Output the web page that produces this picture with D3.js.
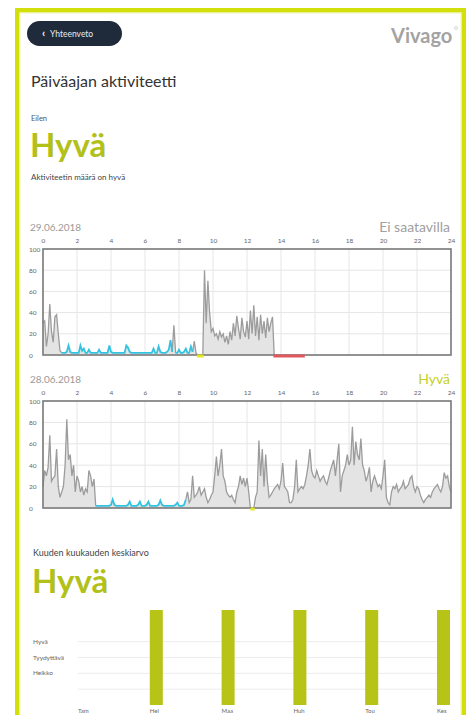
<!DOCTYPE html>
<html>
<head>
<meta charset="utf-8">
<script src="https://cdn.jsdelivr.net/npm/d3@7"></script>
<style>
  body { margin: 0; background: #fff; }
  svg { display: block; font-family: Lato, "Open Sans", sans-serif; }
</style>
</head>
<body>
<svg id="page" width="467" height="715"></svg>
<script>
// activity values, one value every 0.1 hour starting at 00:00
var day1Values = [
  30,32,8,20,48,22,12,36,38,20,
  4,2,2,2,3,9,3,2,2,2,
  2,2,9,4,6,2,2,5,2,2,
  2,2,2,5,2,2,2,2,2,9,
  3,2,2,2,2,2,2,2,2,9,
  7,3,2,2,2,2,2,2,2,2,
  2,2,2,2,2,6,2,2,8,3,
  2,2,2,3,5,14,3,28,2,2,
  5,2,2,3,6,2,2,8,3,13,
  2,0,0,0,0,80,30,70,40,22,
  25,18,20,15,22,17,20,12,18,10,
  22,14,30,18,37,25,15,35,22,17,
  32,15,42,20,47,18,36,14,38,20,
  32,16,35,22,30,36,0
];
var day2Values = [
  20,35,30,38,68,25,28,30,55,20,
  10,15,20,40,83,45,50,30,40,15,
  30,25,15,20,12,18,15,35,30,20,
  27,2,2,2,2,2,2,2,2,2,
  3,8,3,2,2,2,2,2,2,2,
  3,6,2,2,2,2,3,6,2,2,
  2,3,6,2,2,2,2,2,3,7,
  3,2,2,2,2,2,2,2,3,5,
  2,2,2,3,8,15,5,8,30,10,
  12,15,20,12,15,18,10,5,8,12,
  15,30,48,30,40,55,30,25,15,12,
  10,12,8,5,15,20,30,22,28,20,
  28,15,0,0,0,10,15,63,30,55,
  20,50,25,10,12,15,18,20,22,18,
  25,42,20,18,15,5,5,8,20,45,
  15,18,20,18,22,30,40,55,35,30,
  28,35,30,25,28,30,25,22,28,35,
  40,45,30,45,60,15,30,35,40,50,
  40,45,76,40,62,50,45,65,40,35,
  25,30,38,15,25,30,25,20,22,18,
  30,45,10,5,3,15,20,18,22,15,
  18,20,25,18,20,22,28,30,20,15,
  20,18,12,8,5,8,10,12,10,15,
  18,20,22,18,15,20,33,28,30,20,
  15
];
var day1Sleep = [[1.1, 7.6], [7.8, 8.8]];
var day1Away = [[9.05, 9.45]];
var day1Missing = [[13.55, 15.4]];
var day2Sleep = [[3.1, 8.4]];
var day2Away = [[12.2, 12.45]];
var day2Missing = [];

var hourTicks = [0, 2, 4, 6, 8, 10, 12, 14, 16, 18, 20, 22, 24];
var activityTicks = [0, 20, 40, 60, 80, 100];

var months = ["Tam", "Hel", "Maa", "Huh", "Tou", "Kes"];
var monthLevels = [0, 6, 6, 6, 6, 6];
var levelTicks = [1, 2, 3, 4];
var levelNames = {2: "Heikko", 3: "Tyydyttävä", 4: "Hyvä"};

var green = "#b2c11a";
var frameGreen = "#d3df0a";

var svg = d3.select("#page");

// outer frame
svg.append("rect")
  .attr("x", 17.25).attr("y", 10.25)
  .attr("width", 446.5).attr("height", 720)
  .attr("fill", "none")
  .attr("stroke", frameGreen)
  .attr("stroke-width", 4.5);
svg.append("rect")
  .attr("x", 20).attr("y", 13)
  .attr("width", 441).attr("height", 720)
  .attr("fill", "none")
  .attr("stroke", "#eef3b0")
  .attr("stroke-width", 1);

// back button
svg.append("rect")
  .attr("x", 27).attr("y", 21)
  .attr("width", 95).attr("height", 25)
  .attr("rx", 12.5)
  .attr("fill", "#1f2b3b");
svg.append("text")
  .attr("x", 42).attr("y", 37)
  .attr("fill", "#fff")
  .style("font-size", "11px").style("font-weight", "bold")
  .text("‹");
svg.append("text")
  .attr("x", 50).attr("y", 37)
  .attr("fill", "#e8eaee")
  .style("font-size", "8.5px")
  .text("Yhteenveto");

// logo
svg.append("text")
  .attr("x", 391).attr("y", 43)
  .attr("fill", "#a3a3a3")
  .style("font-size", "20px").style("font-weight", "bold")
  .text("Vivago");
svg.append("circle")
  .attr("cx", 456).attr("cy", 28).attr("r", 1.5)
  .attr("fill", "none").attr("stroke", "#bbb").attr("stroke-width", 0.6);

// headings
svg.append("text").attr("x", 31).attr("y", 87)
  .attr("fill", "#333").style("font-size", "16px")
  .text("Päiväajan aktiviteetti");
svg.append("text").attr("x", 31).attr("y", 121)
  .attr("fill", "#555").style("font-size", "7.5px")
  .text("Eilen");
svg.append("text").attr("x", 30).attr("y", 157)
  .attr("fill", green).style("font-size", "33px").style("font-weight", "bold")
  .text("Hyvä");
svg.append("text").attr("x", 31).attr("y", 180)
  .attr("fill", "#444").style("font-size", "8px")
  .text("Aktiviteetin määrä on hyvä");

var x = d3.scaleLinear().domain([0, 24]).range([43, 451]);

function inside(h, list) {
  return list.some(function(r) { return h >= r[0] - 1e-9 && h <= r[1] + 1e-9; });
}
function strictlyInside(h, list) {
  return list.some(function(r) { return h > r[0] + 1e-9 && h < r[1] - 1e-9; });
}

function dayChart(top, bottom, date, status, statusColor, values, sleep, away, missing) {
  var y = d3.scaleLinear().domain([0, 100]).range([bottom, top]);
  var pts = values.map(function(v, i) { return {h: i / 10, v: v}; });
  var g = svg.append("g");

  g.append("text").attr("x", 30).attr("y", top - 18)
    .attr("fill", "#9a9a9a").style("font-size", "10px").text(date);
  g.append("text").attr("x", 450).attr("y", top - 17)
    .attr("text-anchor", "end")
    .attr("fill", statusColor).style("font-size", "14px").text(status);

  // grid
  g.selectAll(".vg").data(hourTicks).enter().append("line")
    .attr("x1", function(d) { return x(d); }).attr("x2", function(d) { return x(d); })
    .attr("y1", top).attr("y2", bottom)
    .attr("stroke", "#e6e6e6").attr("stroke-width", 1);
  g.selectAll(".hg").data(activityTicks).enter().append("line")
    .attr("x1", x(0)).attr("x2", x(24))
    .attr("y1", function(d) { return y(d); }).attr("y2", function(d) { return y(d); })
    .attr("stroke", "#e6e6e6").attr("stroke-width", 1);

  // top axis
  var ax = g.append("g")
    .attr("transform", "translate(0," + (top - 6) + ")")
    .call(d3.axisTop(x).tickValues(hourTicks).tickSize(0).tickPadding(0));
  ax.select(".domain").remove();
  ax.selectAll("text").attr("fill", "#666").style("font-size", "6.5px")
    .style("font-family", "Lato, sans-serif");

  g.selectAll(".yl").data(activityTicks).enter().append("text")
    .attr("x", 29).attr("y", function(d) { return y(d) + 2.5; })
    .attr("fill", "#666").style("font-size", "6.5px")
    .text(function(d) { return d; });

  // activity area + gray line
  g.append("path").datum(pts)
    .attr("fill", "#e4e4e4")
    .attr("d", d3.area().x(function(d) { return x(d.h); }).y0(y(0)).y1(function(d) { return y(d.v); }));
  g.append("path").datum(pts)
    .attr("fill", "none").attr("stroke", "#9c9c9c").attr("stroke-width", 1.3)
    .attr("d", d3.line()
      .defined(function(d) { return !strictlyInside(d.h, sleep); })
      .x(function(d) { return x(d.h); }).y(function(d) { return y(d.v); }));
  // sleep in cyan
  g.append("path").datum(pts)
    .attr("fill", "none").attr("stroke", "#33c3e0").attr("stroke-width", 1.8)
    .attr("d", d3.line()
      .defined(function(d) { return inside(d.h, sleep); })
      .x(function(d) { return x(d.h); }).y(function(d) { return y(d.v); }));

  // frame
  g.append("rect")
    .attr("x", x(0)).attr("y", top)
    .attr("width", x(24) - x(0)).attr("height", bottom - top)
    .attr("fill", "none").attr("stroke", "#7a7a7a").attr("stroke-width", 1.6);

  // away / missing markers on baseline
  g.selectAll(".away").data(away).enter().append("line")
    .attr("x1", function(d) { return x(d[0]); }).attr("x2", function(d) { return x(d[1]); })
    .attr("y1", y(0) + 1).attr("y2", y(0) + 1)
    .attr("stroke", "#e2e81e").attr("stroke-width", 3);
  g.selectAll(".miss").data(missing).enter().append("line")
    .attr("x1", function(d) { return x(d[0]); }).attr("x2", function(d) { return x(d[1]); })
    .attr("y1", y(0) + 1).attr("y2", y(0) + 1)
    .attr("stroke", "#e0585c").attr("stroke-width", 3);
}

dayChart(249, 355, "29.06.2018", "Ei saatavilla", "#a0a0a0", day1Values, day1Sleep, day1Away, day1Missing);
dayChart(401, 508, "28.06.2018", "Hyvä", "#c3cf2c", day2Values, day2Sleep, day2Away, day2Missing);

// six month average
svg.append("text").attr("x", 33).attr("y", 556)
  .attr("fill", "#444").style("font-size", "9px")
  .text("Kuuden kuukauden keskiarvo");
svg.append("text").attr("x", 32).attr("y", 593)
  .attr("fill", green).style("font-size", "33px").style("font-weight", "bold")
  .text("Hyvä");

var mx = d3.scalePoint().domain(months).range([78, 437]);
var my = d3.scaleLinear().domain([0, 6]).range([705, 610]);

svg.selectAll(".lg").data(levelTicks).enter().append("line")
  .attr("x1", 78).attr("x2", 440)
  .attr("y1", function(d) { return my(d); }).attr("y2", function(d) { return my(d); })
  .attr("stroke", "#ececec").attr("stroke-width", 1);
svg.selectAll(".ll").data(levelTicks.filter(function(d) { return levelNames[d]; })).enter().append("text")
  .attr("x", 33).attr("y", function(d) { return my(d) + 2; })
  .attr("fill", "#666").style("font-size", "6.5px")
  .text(function(d) { return levelNames[d]; });

svg.selectAll(".bar").data(months).enter().append("rect")
  .attr("x", function(d) { return mx(d); })
  .attr("y", function(d, i) { return my(monthLevels[i]); })
  .attr("width", 13)
  .attr("height", function(d, i) { return my(0) - my(monthLevels[i]); })
  .attr("fill", "#b7c316");
svg.selectAll(".ml").data(months).enter().append("text")
  .attr("x", function(d) { return mx(d); }).attr("y", 713)
  .attr("fill", "#666").style("font-size", "6px")
  .text(function(d) { return d; });
</script>
</body>
</html>
